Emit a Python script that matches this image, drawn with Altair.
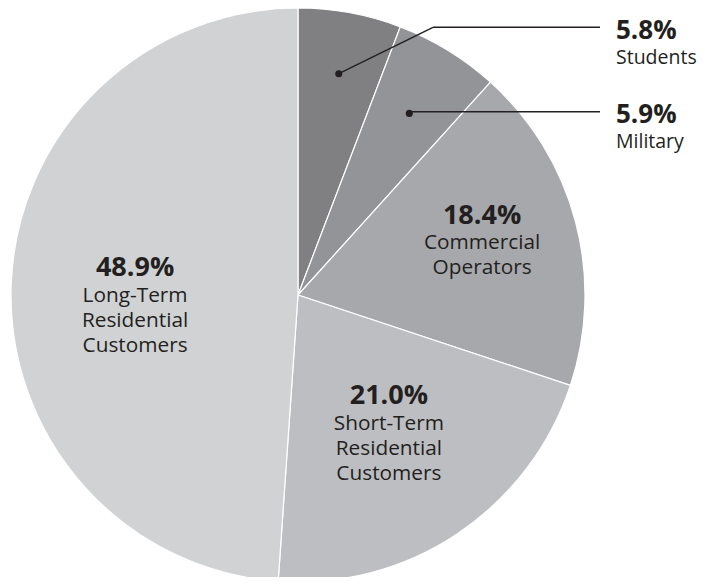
import math
import altair as alt
import pandas as pd

# ---- data ----
categories = ["Students", "Military", "Commercial Operators",
              "Short-Term Residential Customers", "Long-Term Residential Customers"]
name_lines = ["Students", "Military", "Commercial\nOperators",
              "Short-Term\nResidential\nCustomers", "Long-Term\nResidential\nCustomers"]
shares = [5.8, 5.9, 18.4, 21.0, 48.9]
pct_labels = ["5.8%", "5.9%", "18.4%", "21.0%", "48.9%"]

# ---- style / layout ----
colors = ["#808083", "#939497", "#a7a8ab", "#bdbec1", "#d1d2d4"]
TXT = "#231f20"
FONT = "Open Sans"
W, H = 689, 569
CX, CY, R = 290, 287, 287

# inside labels: radius along mid-angle, nudge (dx, dy) to percent baseline
inside_layout = {
    "Commercial Operators": (192, -1.6, -22.5),
    "Short-Term Residential Customers": (165, -1.0, -28.0),
    "Long-Term Residential Customers": (163, 0.0, -13.0),
}
# outside labels: dot radius, leader line y, elbow x (None = straight)
outside_layout = {
    "Students": (225, 19.3, 425),
    "Military": (213, 103.7, None),
}
LINE_END_X = 592
TEXT_X = 608

cum = 0.0
total = sum(shares)
mids = {}
for c, s in zip(categories, shares):
    mids[c] = (cum + s / 2) / total * 2 * math.pi
    cum += s
df = pd.DataFrame({"idx": range(len(categories)), "category": categories,
                   "share": shares, "pct": pct_labels, "names": name_lines})

in_rows = []
for c, (lr, nx, ny) in inside_layout.items():
    i = categories.index(c)
    m = mids[c]
    in_rows.append(dict(category=c, pct=pct_labels[i], names=name_lines[i],
                        ax=CX + lr * math.sin(m) + nx, ay=CY - lr * math.cos(m) + ny))
dfi = pd.DataFrame(in_rows)

out_rows = []
for c, (dr, ly, ex) in outside_layout.items():
    i = categories.index(c)
    m = mids[c]
    dx = CX + dr * math.sin(m)
    dy = CY - dr * math.cos(m)
    ex = dx if ex is None else ex
    out_rows.append(dict(category=c, pct=pct_labels[i], names=name_lines[i],
                         dot_x=dx, dot_y=dy, elbow_x=ex, line_y=ly,
                         end_x=LINE_END_X, text_x=TEXT_X,
                         pct_y=ly + 11.5, name_y=ly + 36.5))
dfo = pd.DataFrame(out_rows)

arcs = alt.Chart(df).mark_arc(radius=R, stroke="white", strokeWidth=1.2).encode(
    theta=alt.Theta("share:Q", stack=True),
    order=alt.Order("idx:O"),
    color=alt.Color("category:N", scale=alt.Scale(domain=categories, range=colors), legend=None),
    x=alt.value(CX), y=alt.value(CY),
)

def px(f):
    return alt.X(f, type="quantitative", scale=None, axis=None)

def py(f):
    return alt.Y(f, type="quantitative", scale=None, axis=None)

pct_in = alt.Chart(dfi).mark_text(font=FONT, fontSize=27, fontWeight="bold", color=TXT,
                                  align="center", baseline="alphabetic").encode(
    x=px("ax"), y=py("ay"), text="pct:N")

names_in = alt.Chart(dfi).mark_text(font=FONT, fontSize=20.8, color=TXT, align="center",
                                    baseline="alphabetic", lineBreak="\n", lineHeight=25,
                                    dy=25.5).encode(
    x=px("ax"), y=py("ay"), text="names:N")

seg1 = alt.Chart(dfo).mark_rule(color=TXT, strokeWidth=1.4).encode(
    x=px("dot_x"), y=py("dot_y"), x2="elbow_x:Q", y2="line_y:Q")
seg2 = alt.Chart(dfo).mark_rule(color=TXT, strokeWidth=1.4).encode(
    x=px("elbow_x"), y=py("line_y"), x2="end_x:Q", y2="line_y:Q")
dots = alt.Chart(dfo).mark_circle(color=TXT, opacity=1, size=50).encode(
    x=px("dot_x"), y=py("dot_y"))
pct_out = alt.Chart(dfo).mark_text(font=FONT, fontSize=26, fontWeight="bold", color=TXT,
                                   align="left", baseline="alphabetic").encode(
    x=px("text_x"), y=py("pct_y"), text="pct:N")
names_out = alt.Chart(dfo).mark_text(font=FONT, fontSize=19.5, color=TXT, align="left",
                                     baseline="alphabetic").encode(
    x=px("text_x"), y=py("name_y"), text="names:N")

chart = alt.layer(arcs, pct_in, names_in, seg1, seg2, dots, pct_out, names_out).properties(
    width=W, height=H, padding=0, autosize=alt.AutoSizeParams(type="none"),
).configure_view(stroke=None)

chart.save("out.html", embed_options={"renderer": "svg", "actions": False})
